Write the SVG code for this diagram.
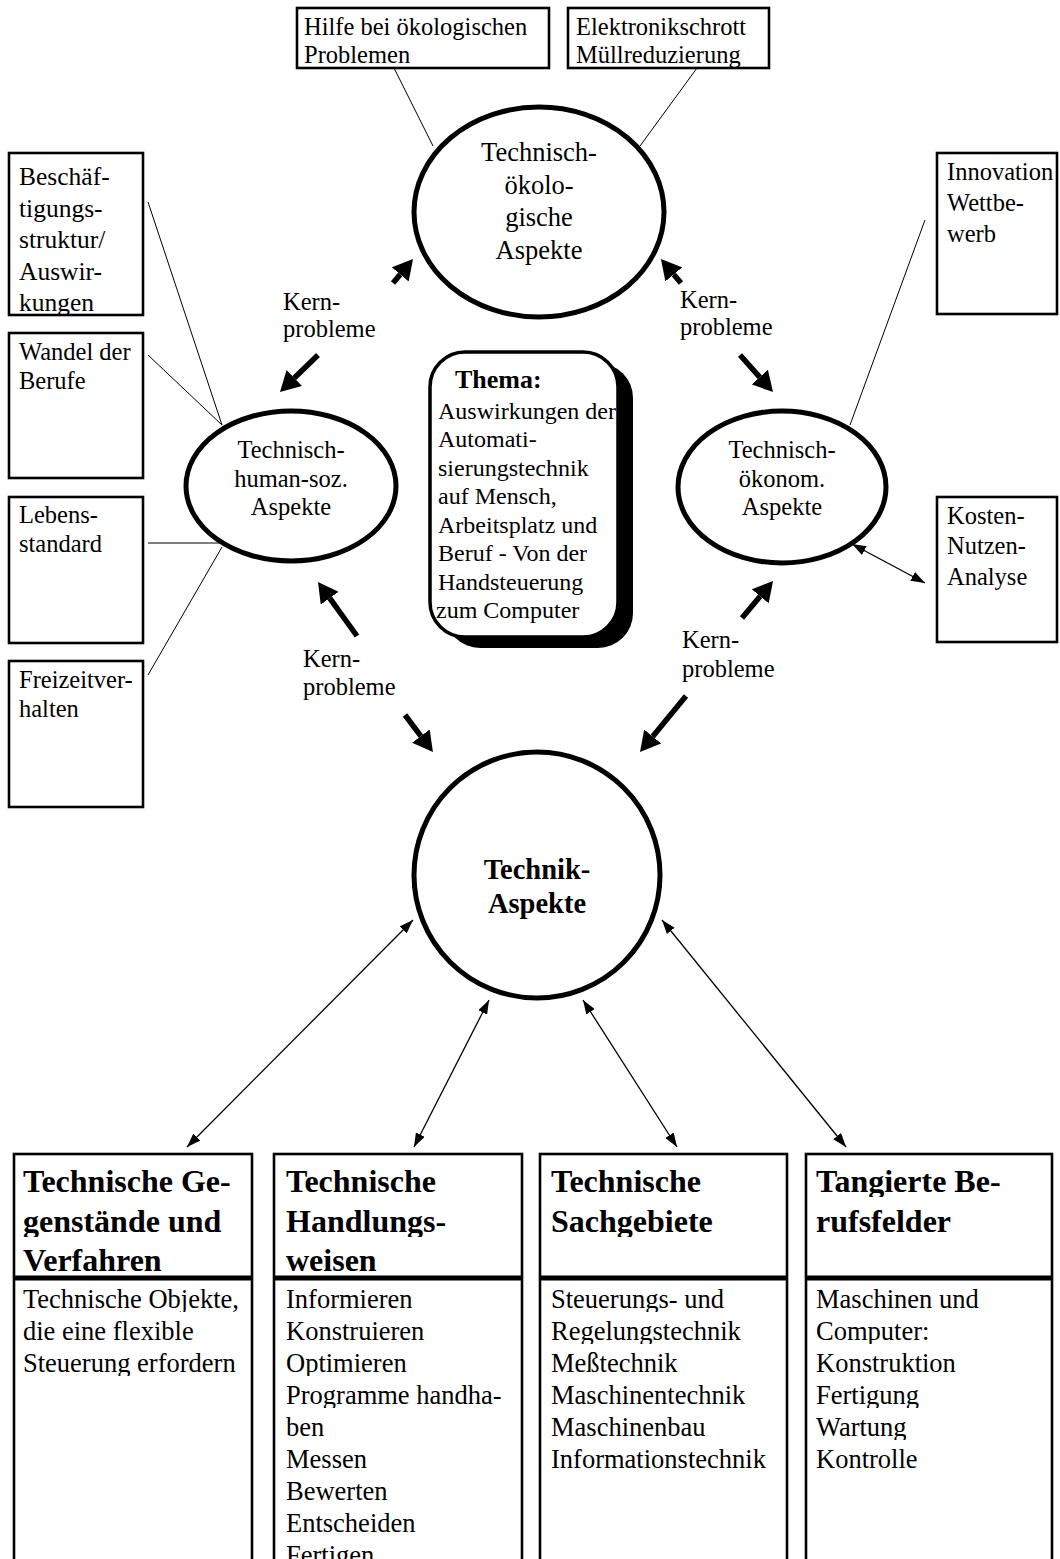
<svg xmlns="http://www.w3.org/2000/svg" width="1060" height="1559" viewBox="0 0 1060 1559">
  <style>
    .t { font-family: "Liberation Serif", "Times New Roman", serif; font-size: 24.5px; fill: #000; }
    .big { font-size: 26.5px; }
    .body { font-size: 26.5px; }
    .head { font-size: 32px; font-weight: bold; }
    .bold { font-weight: bold; }
    .mid { text-anchor: middle; }
    .box { fill: #fff; stroke: #000; stroke-width: 2.6; }
    .ell { fill: #fff; stroke: #000; stroke-width: 5; }
    .thin { stroke: #000; stroke-width: 1; fill: none; }
    .thick { stroke: #000; stroke-width: 5.5; fill: none; marker-end: url(#bigHead); }
    .dbl { stroke: #000; stroke-width: 1.3; fill: none; marker-start: url(#smallHead); marker-end: url(#smallHead); }
    .rule { stroke: #000; stroke-width: 5; }
  </style>
  <defs>
    <marker id="bigHead" viewBox="0 0 20 22" refX="0" refY="11" markerWidth="20" markerHeight="22" markerUnits="userSpaceOnUse" orient="auto">
      <path d="M0,0 L20,11 L0,22 z" fill="#000"/>
    </marker>
    <marker id="smallHead" viewBox="0 0 14 10" refX="14" refY="5" markerWidth="14" markerHeight="10" markerUnits="userSpaceOnUse" orient="auto-start-reverse">
      <path d="M0,0 L14,5 L0,10 z" fill="#000"/>
    </marker>
    <clipPath id="clipA"><rect x="298" y="9" width="250" height="58"/></clipPath>
    <clipPath id="clipB"><rect x="569" y="9" width="199" height="58"/></clipPath>
    <clipPath id="clipL1"><rect x="10" y="154" width="132" height="160"/></clipPath>
    <!-- line bands of the table: descenders are cut at each row -->
    <clipPath id="headRows">
      <rect x="0" y="1160" width="1060" height="37"/>
      <rect x="0" y="1199" width="1060" height="38"/>
      <rect x="0" y="1239" width="1060" height="37"/>
    </clipPath>
    <clipPath id="bodyRows">
      <rect x="0" y="1282" width="1060" height="30"/>
      <rect x="0" y="1314" width="1060" height="30"/>
      <rect x="0" y="1346" width="1060" height="30"/>
      <rect x="0" y="1378" width="1060" height="30"/>
      <rect x="0" y="1410" width="1060" height="30"/>
      <rect x="0" y="1442" width="1060" height="30"/>
      <rect x="0" y="1473" width="1060" height="31"/>
      <rect x="0" y="1505" width="1060" height="31"/>
      <rect x="0" y="1537" width="1060" height="31"/>
    </clipPath>
  </defs>

  <rect width="1060" height="1559" fill="#fff"/>

  <!-- connectors -->
  <g id="connectors">
    <!-- thin lines from the note boxes -->
    <line class="thin" x1="394" y1="68" x2="433" y2="146"/>
    <line class="thin" x1="697" y1="68" x2="640" y2="146"/>
    <line class="thin" x1="148" y1="202" x2="222" y2="425"/>
    <line class="thin" x1="148" y1="355" x2="222" y2="425"/>
    <line class="thin" x1="148" y1="543" x2="220" y2="543"/>
    <line class="thin" x1="148" y1="675" x2="222" y2="547"/>
    <line class="thin" x1="925" y1="220" x2="850" y2="425"/>
    <line class="dbl" x1="852" y1="544" x2="925" y2="583"/>
    <!-- Kernprobleme arrows -->
    <line class="thick" x1="393" y1="283" x2="400.2" y2="274.4"/>
    <line class="thick" x1="318" y1="355" x2="294.3" y2="378"/>
    <line class="thick" x1="681" y1="283" x2="673.8" y2="274.4"/>
    <line class="thick" x1="740" y1="355" x2="759.7" y2="377.1"/>
    <line class="thick" x1="357" y1="636" x2="329.7" y2="598.2"/>
    <line class="thick" x1="405" y1="715" x2="420.9" y2="736.1"/>
    <line class="thick" x1="742" y1="618" x2="760.2" y2="596.3"/>
    <line class="thick" x1="686" y1="696" x2="652.7" y2="736.5"/>
    <!-- links between Technik-Aspekte and the table -->
    <line class="dbl" x1="413" y1="920" x2="187" y2="1147"/>
    <line class="dbl" x1="489" y1="1000" x2="414" y2="1147"/>
    <line class="dbl" x1="583" y1="1000" x2="677" y2="1147"/>
    <line class="dbl" x1="662" y1="920" x2="846" y2="1147"/>
  </g>

  <!-- labels on the arrows -->
  <g id="labels" class="t">
    <text x="283" y="310">Kern-</text><text x="283" y="337">probleme</text>
    <text x="680" y="308">Kern-</text><text x="680" y="335">probleme</text>
    <text x="303" y="667">Kern-</text><text x="303" y="695">probleme</text>
    <text x="682" y="648">Kern-</text><text x="682" y="677">probleme</text>
  </g>

  <!-- top note boxes -->
  <g id="note-oeko-hilfe">
    <rect class="box" x="297" y="8" width="252" height="60"/>
    <g clip-path="url(#clipA)">
      <text class="t" x="304" y="35">Hilfe bei ökologischen</text>
      <text class="t" x="304" y="63">Problemen</text>
    </g>
  </g>
  <g id="note-schrott">
    <rect class="box" x="568" y="8" width="201" height="60"/>
    <g clip-path="url(#clipB)">
      <text class="t" x="576" y="35">Elektronikschrott</text>
      <text class="t" x="576" y="63">Müllreduzierung</text>
    </g>
  </g>

  <!-- left note boxes -->
  <g id="note-beschaeftigung">
    <rect class="box" x="9" y="153" width="134" height="162"/>
    <g clip-path="url(#clipL1)" class="t" style="font-size:25.5px">
      <text x="19" y="185">Beschäf-</text>
      <text x="19" y="216.5">tigungs-</text>
      <text x="19" y="248">struktur/</text>
      <text x="19" y="279.5">Auswir-</text>
      <text x="19" y="311">kungen</text>
    </g>
  </g>
  <g id="note-wandel">
    <rect class="box" x="9" y="333" width="134" height="145"/>
    <text class="t" x="19" y="360">Wandel der</text>
    <text class="t" x="19" y="388.5">Berufe</text>
  </g>
  <g id="note-lebensstandard">
    <rect class="box" x="9" y="497" width="134" height="146"/>
    <text class="t" x="19" y="523">Lebens-</text>
    <text class="t" x="19" y="552">standard</text>
  </g>
  <g id="note-freizeit">
    <rect class="box" x="9" y="661" width="134" height="146"/>
    <text class="t" x="19" y="688">Freizeitver-</text>
    <text class="t" x="19" y="717">halten</text>
  </g>

  <!-- right note boxes -->
  <g id="note-innovation">
    <rect class="box" x="937" y="153" width="120" height="161"/>
    <text class="t" x="947" y="180">Innovation</text>
    <text class="t" x="947" y="211">Wettbe-</text>
    <text class="t" x="947" y="242">werb</text>
  </g>
  <g id="note-kosten">
    <rect class="box" x="937" y="497" width="120" height="145"/>
    <text class="t" x="947" y="523.5">Kosten-</text>
    <text class="t" x="947" y="554">Nutzen-</text>
    <text class="t" x="947" y="584.5">Analyse</text>
  </g>

  <!-- aspect ellipses -->
  <g id="aspekt-oekologisch">
    <ellipse class="ell" cx="539" cy="212" rx="125" ry="105"/>
    <text class="t big mid" x="539" y="161">Technisch-</text>
    <text class="t big mid" x="539" y="193.5">ökolo-</text>
    <text class="t big mid" x="539" y="226">gische</text>
    <text class="t big mid" x="539" y="258.5">Aspekte</text>
  </g>
  <g id="aspekt-human">
    <ellipse class="ell" cx="291" cy="486" rx="105" ry="75"/>
    <text class="t mid" x="291" y="458">Technisch-</text>
    <text class="t mid" x="291" y="487">human-soz.</text>
    <text class="t mid" x="291" y="515">Aspekte</text>
  </g>
  <g id="aspekt-oekonomisch">
    <ellipse class="ell" cx="782" cy="487" rx="104" ry="76"/>
    <text class="t mid" x="782" y="458">Technisch-</text>
    <text class="t mid" x="782" y="487">ökonom.</text>
    <text class="t mid" x="782" y="515">Aspekte</text>
  </g>

  <!-- theme card with drop shadow -->
  <g id="thema">
    <rect x="445" y="363" width="188" height="285" rx="35" fill="#000"/>
    <rect x="430" y="352" width="188" height="285" rx="35" fill="#fff" stroke="#000" stroke-width="3.5"/>
    <text class="t bold" x="455" y="388" style="font-size:26px">Thema:</text>
    <g class="t" style="font-size:24px">
      <text x="438" y="418.5">Auswirkungen der</text>
      <text x="438" y="447">Automati-</text>
      <text x="438" y="475.5">sierungstechnik</text>
      <text x="438" y="504">auf Mensch,</text>
      <text x="438" y="532.5">Arbeitsplatz und</text>
      <text x="438" y="561">Beruf - Von der</text>
      <text x="438" y="589.5">Handsteuerung</text>
      <text x="436" y="618">zum Computer</text>
    </g>
  </g>

  <!-- central circle -->
  <g id="technik-aspekte">
    <circle class="ell" cx="537" cy="875" r="123"/>
    <text class="t bold mid" x="537" y="879" style="font-size:28.5px">Technik-</text>
    <text class="t bold mid" x="537" y="913" style="font-size:28.5px">Aspekte</text>
  </g>

  <!-- table of four columns -->
  <g id="col-gegenstaende">
    <rect class="box" x="14" y="1154" width="238" height="460" stroke-width="3"/>
    <line class="rule" x1="14" y1="1278" x2="252" y2="1278"/>
    <g clip-path="url(#headRows)" class="t head">
      <text x="23" y="1192">Technische Ge-</text>
      <text x="23" y="1232">genstände und</text>
      <text x="23" y="1271">Verfahren</text>
    </g>
    <g clip-path="url(#bodyRows)" class="t body">
      <text x="23" y="1308">Technische Objekte,</text>
      <text x="23" y="1340">die eine flexible</text>
      <text x="23" y="1372">Steuerung erfordern</text>
    </g>
  </g>
  <g id="col-handlungsweisen">
    <rect class="box" x="274" y="1154" width="248" height="460" stroke-width="3"/>
    <line class="rule" x1="274" y1="1278" x2="522" y2="1278"/>
    <g clip-path="url(#headRows)" class="t head">
      <text x="286" y="1192">Technische</text>
      <text x="286" y="1232">Handlungs-</text>
      <text x="286" y="1271">weisen</text>
    </g>
    <g clip-path="url(#bodyRows)" class="t body">
      <text x="286" y="1308">Informieren</text>
      <text x="286" y="1340">Konstruieren</text>
      <text x="286" y="1372">Optimieren</text>
      <text x="286" y="1404">Programme handha-</text>
      <text x="286" y="1436">ben</text>
      <text x="286" y="1468">Messen</text>
      <text x="286" y="1499.5">Bewerten</text>
      <text x="286" y="1531.5">Entscheiden</text>
      <text x="286" y="1563.5">Fertigen</text>
    </g>
  </g>
  <g id="col-sachgebiete">
    <rect class="box" x="540" y="1154" width="247" height="460" stroke-width="3"/>
    <line class="rule" x1="540" y1="1278" x2="787" y2="1278"/>
    <g clip-path="url(#headRows)" class="t head">
      <text x="551" y="1192">Technische</text>
      <text x="551" y="1232">Sachgebiete</text>
    </g>
    <g clip-path="url(#bodyRows)" class="t body">
      <text x="551" y="1308">Steuerungs- und</text>
      <text x="551" y="1340">Regelungstechnik</text>
      <text x="551" y="1372">Meßtechnik</text>
      <text x="551" y="1404">Maschinentechnik</text>
      <text x="551" y="1436">Maschinenbau</text>
      <text x="551" y="1468">Informationstechnik</text>
    </g>
  </g>
  <g id="col-berufsfelder">
    <rect class="box" x="806" y="1154" width="246" height="460" stroke-width="3"/>
    <line class="rule" x1="806" y1="1278" x2="1052" y2="1278"/>
    <g clip-path="url(#headRows)" class="t head">
      <text x="816" y="1192">Tangierte Be-</text>
      <text x="816" y="1232">rufsfelder</text>
    </g>
    <g clip-path="url(#bodyRows)" class="t body">
      <text x="816" y="1308">Maschinen und</text>
      <text x="816" y="1340">Computer:</text>
      <text x="816" y="1372">Konstruktion</text>
      <text x="816" y="1404">Fertigung</text>
      <text x="816" y="1436">Wartung</text>
      <text x="816" y="1468">Kontrolle</text>
    </g>
  </g>
</svg>
